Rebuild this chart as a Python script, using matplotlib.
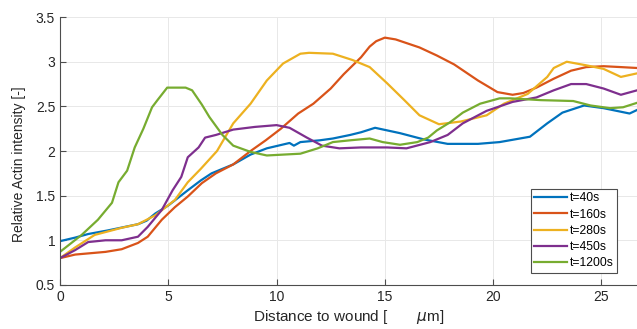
import matplotlib
matplotlib.use("Agg")
import matplotlib.pyplot as plt

plt.rcParams["font.family"] = ["Liberation Sans", "DejaVu Sans"]

# distance (um) / relative intensity, one pair per time point
x_40 = [0, 0.7, 1.3, 2.2, 3.0, 3.6, 4.0, 4.4, 5.0, 5.9, 6.5, 7.0, 8.0, 8.8, 9.55,
        10.6, 10.8, 11.1, 12.0, 12.6, 13.4, 13.9, 14.55, 15.7, 16.8, 17.9, 19.3,
        20.3, 21.0, 21.7, 22.5, 23.2, 24.2, 25.1, 26.3, 26.65]
y_40 = [0.99, 1.03, 1.07, 1.11, 1.15, 1.18, 1.22, 1.3, 1.39, 1.56, 1.67, 1.75, 1.85,
        1.96, 2.03, 2.09, 2.06, 2.1, 2.12, 2.14, 2.18, 2.21, 2.26, 2.2, 2.13, 2.08,
        2.08, 2.1, 2.13, 2.16, 2.31, 2.43, 2.51, 2.48, 2.42, 2.46]

x_160 = [0, 0.7, 2.1, 2.85, 3.6, 4.05, 4.7, 5.3, 5.9, 6.55, 7.2, 8.0, 8.8, 9.5,
         10.2, 11.0, 11.7, 12.5, 13.1, 13.9, 14.3, 14.6, 15.0, 15.5, 16.6, 17.4,
         18.2, 19.3, 20.2, 20.9, 21.4, 22.0, 22.8, 23.6, 24.3, 25.1, 25.9, 26.65]
y_160 = [0.8, 0.84, 0.87, 0.9, 0.97, 1.04, 1.23, 1.37, 1.49, 1.64, 1.75, 1.85, 2.0,
         2.12, 2.25, 2.42, 2.53, 2.7, 2.86, 3.05, 3.17, 3.23, 3.27, 3.25, 3.16, 3.07,
         2.97, 2.79, 2.66, 2.63, 2.65, 2.71, 2.81, 2.9, 2.94, 2.95, 2.94, 2.93]

x_280 = [0, 0.7, 1.6, 2.85, 3.6, 4.4, 5.3, 5.9, 6.5, 7.25, 8.0, 8.8, 9.55, 10.3,
         11.1, 11.5, 12.6, 13.5, 14.3, 15.1, 15.9, 16.6, 17.5, 18.5, 19.7, 20.5,
         21.6, 22.5, 22.8, 23.4, 24.3, 25.1, 25.9, 26.65]
y_280 = [0.8, 0.92, 1.06, 1.14, 1.18, 1.28, 1.45, 1.65, 1.8, 2.0, 2.31, 2.53, 2.79,
         2.98, 3.09, 3.1, 3.09, 3.02, 2.94, 2.76, 2.57, 2.4, 2.3, 2.33, 2.4, 2.53,
         2.64, 2.83, 2.93, 3.0, 2.96, 2.92, 2.83, 2.87]

x_450 = [0, 0.7, 1.3, 2.1, 2.85, 3.6, 4.05, 4.7, 5.2, 5.6, 5.9, 6.4, 6.7, 7.2, 8.0,
         9.0, 10.0, 10.6, 11.4, 12.1, 12.9, 13.9, 15.1, 16.0, 17.1, 17.9, 18.6,
         19.7, 20.9, 22.0, 22.8, 23.6, 24.3, 25.1, 25.9, 26.65]
y_450 = [0.8, 0.89, 0.98, 1.0, 1.0, 1.04, 1.15, 1.34, 1.56, 1.71, 1.93, 2.04, 2.15,
         2.18, 2.24, 2.27, 2.29, 2.26, 2.15, 2.06, 2.03, 2.04, 2.04, 2.03, 2.1, 2.18,
         2.31, 2.45, 2.55, 2.6, 2.68, 2.75, 2.75, 2.7, 2.63, 2.68]

x_1200 = [0, 1.0, 1.75, 2.4, 2.7, 3.1, 3.45, 3.85, 4.25, 4.5, 4.95, 5.8, 6.1, 6.55,
          6.9, 7.5, 8.0, 8.8, 9.55, 11.1, 11.9, 12.6, 13.4, 14.3, 14.9, 15.7, 16.5,
          17.0, 17.4, 18.0, 18.6, 19.4, 20.3, 20.8, 22.2, 23.7, 24.5, 25.4, 26.0,
          26.65]
y_1200 = [0.87, 1.06, 1.23, 1.42, 1.65, 1.78, 2.04, 2.25, 2.49, 2.57, 2.71, 2.71,
          2.68, 2.52, 2.38, 2.18, 2.06, 1.99, 1.95, 1.97, 2.03, 2.1, 2.12, 2.14, 2.1,
          2.07, 2.1, 2.15, 2.23, 2.32, 2.43, 2.53, 2.59, 2.59, 2.57, 2.56, 2.51,
          2.48, 2.49, 2.54]

series = [
    ("t=40s", x_40, y_40, "#0072BD"),
    ("t=160s", x_160, y_160, "#D95319"),
    ("t=280s", x_280, y_280, "#EDB120"),
    ("t=450s", x_450, y_450, "#7E2F8E"),
    ("t=1200s", x_1200, y_1200, "#77AC30"),
]

AX_COL = "#4d4d4d"

fig = plt.figure(figsize=(6.37, 3.29), dpi=100)
ax = fig.add_axes([0.0942, 0.134, 0.906, 0.814])

for label, xs, ys, col in series:
    ax.plot(xs, ys, color=col, lw=1.6, label=label)

ax.set_xlim(0, 26.65)
ax.set_ylim(0.5, 3.5)
ax.set_xticks([0, 5, 10, 15, 20, 25])
ax.set_yticks([0.5, 1, 1.5, 2, 2.5, 3, 3.5])
ax.set_yticklabels(["0.5", "1", "1.5", "2", "2.5", "3", "3.5"])
ax.grid(True, color="#e8e8e8", lw=0.7)
ax.set_axisbelow(True)

ax.spines[["top", "right"]].set_visible(False)
for s in ("left", "bottom"):
    ax.spines[s].set_color(AX_COL)
    ax.spines[s].set_linewidth(0.8)
ax.tick_params(direction="in", length=4, width=0.8, color=AX_COL,
               labelcolor="#262626", labelsize=10)

ax.set_xlabel("Distance to wound [       $\\mu$m]", fontsize=11, color="#262626",
              labelpad=3)
ax.set_ylabel("Relative Actin intensity [-]", fontsize=10, color="#262626")
ax.yaxis.set_label_coords(-0.059, 0.45)

leg = ax.legend(loc="lower right", bbox_to_anchor=(0.965, 0.045), fontsize=8.7,
                frameon=True, fancybox=False, framealpha=1, edgecolor=AX_COL,
                handlelength=2.7, handletextpad=0.2, labelspacing=0.35,
                borderpad=0.3, borderaxespad=0)
leg.get_frame().set_linewidth(0.8)

fig.savefig("out.png", dpi=100)
